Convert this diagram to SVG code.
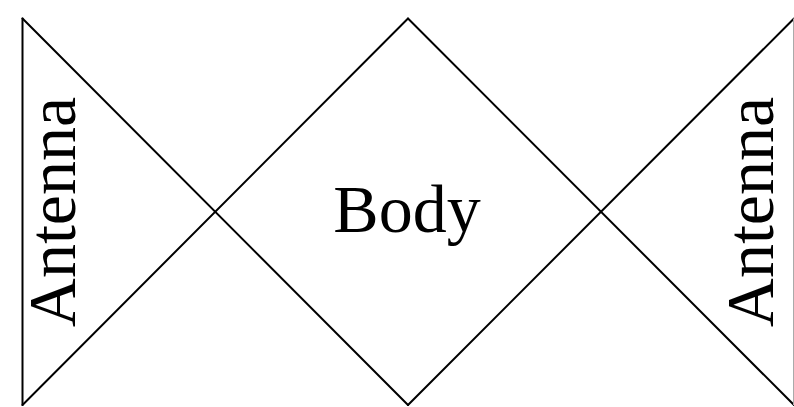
<svg xmlns="http://www.w3.org/2000/svg" width="794" height="407" viewBox="0 0 794 407">
<style>
.ln{stroke:#000;stroke-width:2;fill:none;stroke-linecap:round;stroke-linejoin:round}
.t{font-family:"Liberation Serif","DejaVu Serif",serif;font-size:68px;fill:#000;text-anchor:middle}
</style>
<rect width="794" height="407" fill="#fff"/>
<g id="connectors">
<line class="ln" x1="22.5" y1="18.5" x2="22.5" y2="405"/>
<line class="ln" x1="22.5" y1="18.5" x2="408" y2="405"/>
<line class="ln" x1="22.5" y1="405" x2="408" y2="18.5"/>
<line class="ln" x1="408" y1="18.5" x2="794" y2="405"/>
<line class="ln" x1="408" y1="405" x2="794" y2="18.5"/>
<line x1="793.5" y1="18.5" x2="793.5" y2="405" stroke="#aaa" stroke-width="1"/>
</g>
<g id="body"><text class="t" x="407" y="232">Body</text></g>
<g id="antenna-left"><text class="t" transform="translate(75,212) rotate(-90)">Antenna</text></g>
<g id="antenna-right"><text class="t" transform="translate(773,212) rotate(-90)">Antenna</text></g>
</svg>
